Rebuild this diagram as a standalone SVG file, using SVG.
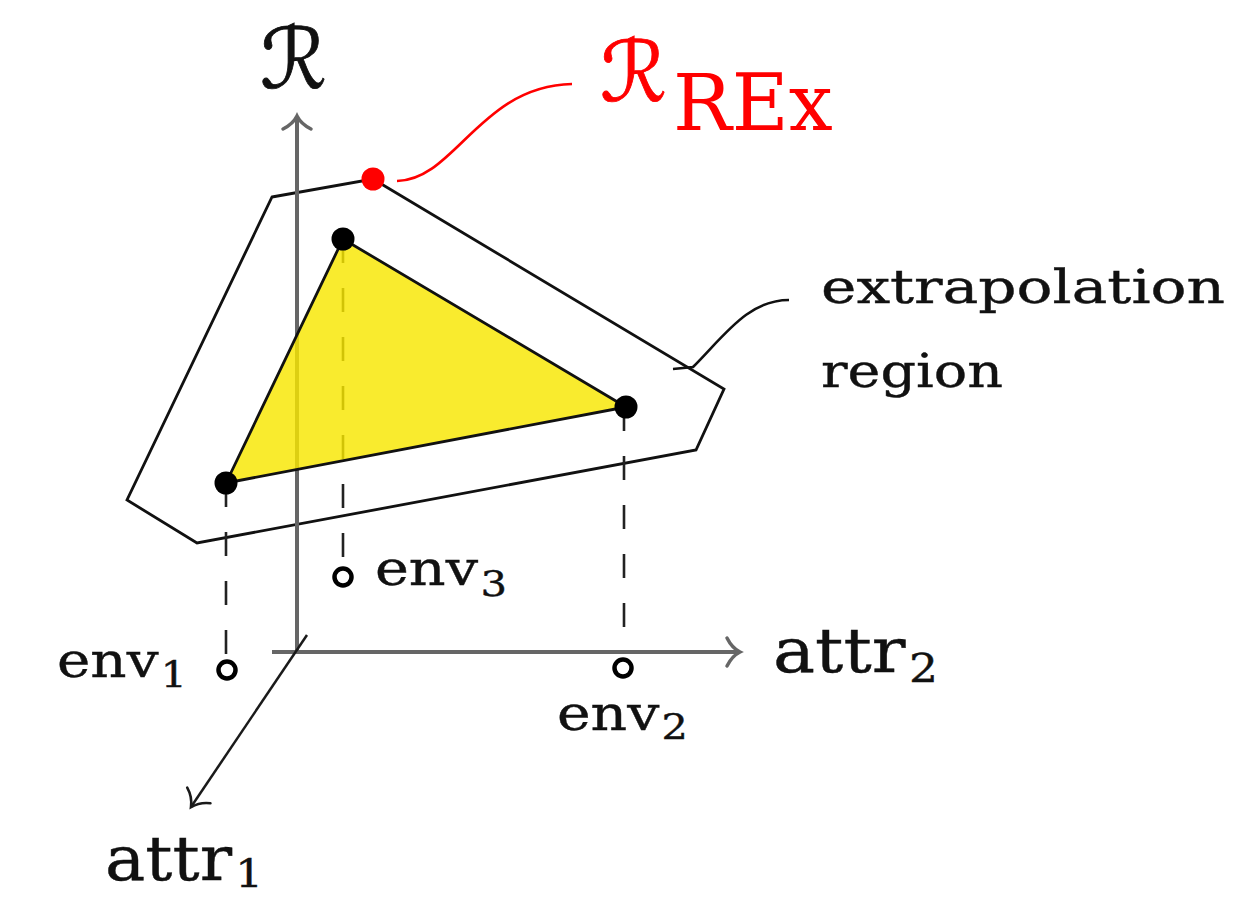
<svg xmlns="http://www.w3.org/2000/svg" width="1235" height="897" viewBox="0 0 1235 897">
<style>
  .axis{stroke:#666;stroke-width:4;fill:none}
  .axis3{stroke:#1a1a1a;stroke-width:2.5;fill:none}
  .edge{stroke:#111;stroke-width:2.8;fill:none;stroke-linejoin:miter}
  .dash{stroke:#222;stroke-width:2.6;stroke-dasharray:24 25;fill:none}
  .pt{fill:#000}
  .env{fill:#fff;stroke:#000;stroke-width:4.5}
  .lbl{font-family:"DejaVu Serif","Liberation Serif",serif;fill:#111}
  .cal{font-family:"DejaVu Sans","DejaVu Serif",serif}
  .red{fill:#ff0000}
</style>
<defs>
  <marker id="arrG" markerUnits="userSpaceOnUse" viewBox="-16 -16 20 32" markerWidth="20" markerHeight="32" refX="0" refY="0" orient="auto" overflow="visible">
    <path d="M-13,-14 C-9,-6 -4,-2 0,0 C-4,2 -9,6 -13,14" fill="none" stroke="#666" stroke-width="3.5" stroke-linecap="round"/>
  </marker>
  <marker id="arrK" markerUnits="userSpaceOnUse" viewBox="-16 -16 20 32" markerWidth="20" markerHeight="32" refX="0" refY="0" orient="auto" overflow="visible">
    <path d="M-14,-14 C-10,-6 -4,-2 0,0 C-4,2 -10,6 -14,14" fill="none" stroke="#1a1a1a" stroke-width="2.6" stroke-linecap="round"/>
  </marker>
</defs>
<rect width="1235" height="897" fill="#fff"/>

<g id="extrapolation-region">
  <polygon class="edge" points="272,197 373,179 724,389 696,450 197,543 127,500"/>
</g>

<g id="connectors">
  <line class="axis" x1="297" y1="652" x2="297" y2="116" marker-end="url(#arrG)"/>
  <line class="axis" x1="272" y1="652" x2="740" y2="652" marker-end="url(#arrG)"/>
  <line class="axis3" x1="307" y1="635" x2="191" y2="807" marker-end="url(#arrK)"/>
  <path class="dash" d="M343,239 V562"/>
  <path class="dash" d="M226,483 V660"/>
  <path class="dash" d="M624,407 V645"/>
  <path d="M397,181 C455,180 480,86 572,84" fill="none" stroke="#ff0000" stroke-width="2.6"/>
  <path d="M673,369 L693,367 C725,335 748,300 789,300" fill="none" stroke="#111" stroke-width="2.6"/>
</g>

<g id="observed-region">
  <polygon points="343,239 626,407 226,483" fill="#f8e700" fill-opacity="0.82" stroke="#111" stroke-width="2.8" stroke-linejoin="round"/>
</g>

<g id="point-top"><circle class="pt" cx="343" cy="239" r="11.5"/></g>
<g id="point-right"><circle class="pt" cx="626" cy="407" r="11.5"/></g>
<g id="point-left"><circle class="pt" cx="226" cy="483" r="11.5"/></g>
<g id="point-rex"><circle cx="373" cy="179" r="11.5" fill="#ff0000"/></g>

<g id="env1">
  <circle class="env" cx="227" cy="670" r="8.5"/>
  <text class="lbl" x="57" y="677" font-size="48" stroke="#111" stroke-width="0.4" textLength="130" lengthAdjust="spacingAndGlyphs">env<tspan font-size="35" dx="2" dy="10">1</tspan></text>
</g>
<g id="env2">
  <circle class="env" cx="623" cy="668" r="8.5"/>
  <text class="lbl" x="557" y="730" font-size="48" stroke="#111" stroke-width="0.4" textLength="131" lengthAdjust="spacingAndGlyphs">env<tspan font-size="35" dx="2" dy="9">2</tspan></text>
</g>
<g id="env3">
  <circle class="env" cx="343" cy="577" r="8.5"/>
  <text class="lbl" x="375" y="585" font-size="48" stroke="#111" stroke-width="0.4" textLength="132" lengthAdjust="spacingAndGlyphs">env<tspan font-size="35" dx="2" dy="11">3</tspan></text>
</g>

<g id="label-R">
  <text class="cal" x="260" y="88" font-size="84" fill="#111" stroke="#111" stroke-width="0.8">ℛ</text>
</g>
<g id="label-RREx">
  <text class="cal red" x="600" y="101" font-size="84" stroke="#ff0000" stroke-width="0.8">ℛ</text>
  <text class="lbl red" x="673" y="130" font-size="78">REx</text>
</g>

<g id="label-attr2">
  <text class="lbl" x="773" y="672" font-size="62" stroke="#111" stroke-width="0.4" textLength="165" lengthAdjust="spacingAndGlyphs">attr<tspan font-size="40" dx="3" dy="10">2</tspan></text>
</g>
<g id="label-attr1">
  <text class="lbl" x="105" y="880" font-size="62" stroke="#111" stroke-width="0.4" textLength="158" lengthAdjust="spacingAndGlyphs">attr<tspan font-size="40" dx="3" dy="7">1</tspan></text>
</g>

<g id="label-extrapolation">
  <text class="lbl" x="821" y="303" font-size="47" stroke="#111" stroke-width="0.4" textLength="404" lengthAdjust="spacingAndGlyphs">extrapolation</text>
  <text class="lbl" x="821" y="387" font-size="47" stroke="#111" stroke-width="0.4" textLength="182" lengthAdjust="spacingAndGlyphs">region</text>
</g>
</svg>
